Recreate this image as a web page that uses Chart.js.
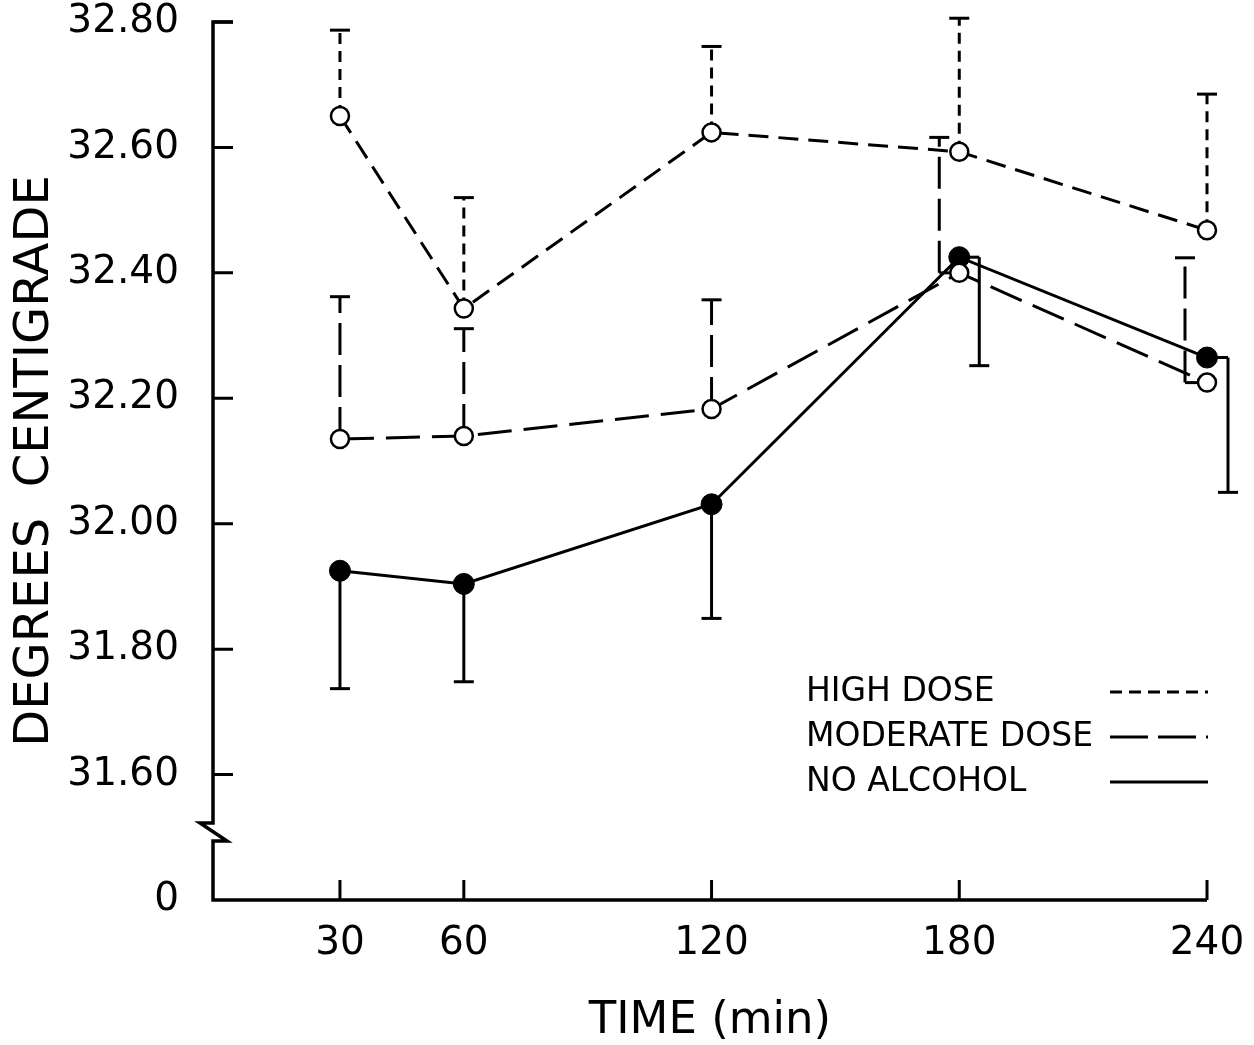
<!DOCTYPE html>
<html>
<head>
<meta charset="utf-8">
<script src="https://cdn.jsdelivr.net/npm/chart.js@4.4.0/dist/chart.umd.min.js"></script>
<style>
  html, body { margin: 0; padding: 0; background: #fff; }
</style>
</head>
<body>
<canvas id="tempChart" width="1254" height="1045"></canvas>
<script>
// Podaci (ocitano sa slike)
const times = [30, 60, 120, 180, 240];
const xTickLabels = ['30', '60', '120', '180', '240'];
const yTicks = [31.40, 31.60, 31.80, 32.00, 32.20, 32.40, 32.60, 32.80];
const yTickLabels = ['0', '31.60', '31.80', '32.00', '32.20', '32.40', '32.60', '32.80'];

const highDose = [32.650, 32.343, 32.624, 32.593, 32.468];
const highDoseErr = [0.137, 0.177, 0.137, 0.213, 0.217];
const moderateDose = [32.135, 32.140, 32.183, 32.400, 32.225];
const moderateDoseErr = [0.227, 0.171, 0.174, 0.216, 0.199];
const noAlcohol = [31.925, 31.904, 32.031, 32.425, 32.265];
const noAlcoholErr = [0.188, 0.156, 0.182, 0.173, 0.215];

const seriesNames = ['HIGH DOSE', 'MODERATE DOSE', 'NO ALCOHOL'];

// Stil error barova: smjer (+1 gore, -1 dolje), pomak u px, crtkanje
const errValues = [highDoseErr, moderateDoseErr, noAlcoholErr];
const errDir = [1, 1, -1];
const errShift = [[0, 0, 0, 0, 0], [0, 0, 0, -20, -22], [0, 0, 0, 20, 21]];
const errDash = [[11, 7], [32, 10], []];
const legendDash = [[12, 7], [38, 10], []];

const FONT = 'DejaVu Sans';

function toPoints(values) {
    return times.map((t, i) => ({ x: t, y: values[i] }));
}

// Error barovi - crtaju se prije tocaka da ih kruzici prekriju
const errorBarPlugin = {
    id: 'errorBars',
    beforeDatasetsDraw(chart) {
        const ctx = chart.ctx;
        const xs = chart.scales.x, ys = chart.scales.y;
        chart.data.datasets.forEach((ds, d) => {
            ds.data.forEach((pt, i) => {
                const px = xs.getPixelForValue(pt.x);
                const py = ys.getPixelForValue(pt.y);
                const bx = px + errShift[d][i];
                const end = ys.getPixelForValue(pt.y + errDir[d] * errValues[d][i]);
                ctx.save();
                ctx.strokeStyle = '#000';
                ctx.lineWidth = 3;
                ctx.beginPath();
                if (bx !== px) {
                    ctx.moveTo(px, py);
                    ctx.lineTo(bx, py);
                    ctx.stroke();
                }
                ctx.setLineDash(errDash[d]);
                ctx.beginPath();
                ctx.moveTo(bx, py);
                ctx.lineTo(bx, end);
                ctx.stroke();
                ctx.setLineDash([]);
                ctx.beginPath();
                ctx.moveTo(bx - 10, end);
                ctx.lineTo(bx + 10, end);
                ctx.stroke();
                ctx.restore();
            });
        });
    }
};

// Osi s prekidom i unutarnjim crticama + legenda
const axesPlugin = {
    id: 'axesAndLegend',
    afterDraw(chart) {
        const ctx = chart.ctx;
        const xs = chart.scales.x, ys = chart.scales.y;
        const left = chart.chartArea.left;
        const top = ys.getPixelForValue(32.80);
        const bottom = ys.getPixelForValue(31.40);
        const right = xs.getPixelForValue(240);

        ctx.save();
        ctx.strokeStyle = '#000';
        ctx.lineWidth = 3.5;
        ctx.lineJoin = 'miter';
        ctx.beginPath();
        ctx.moveTo(left + 20, top);
        ctx.lineTo(left, top);
        ctx.lineTo(left, bottom - 77);
        ctx.lineTo(left - 13, bottom - 77);
        ctx.lineTo(left + 14, bottom - 59);
        ctx.lineTo(left, bottom - 59);
        ctx.lineTo(left, bottom);
        ctx.lineTo(right, bottom);
        ctx.stroke();

        ctx.lineWidth = 3;
        ctx.beginPath();
        yTicks.slice(1).forEach(v => {
            const y = ys.getPixelForValue(v);
            ctx.moveTo(left, y);
            ctx.lineTo(left + 20, y);
        });
        times.forEach(t => {
            const x = xs.getPixelForValue(t);
            ctx.moveTo(x, bottom);
            ctx.lineTo(x, bottom - 20);
        });
        ctx.stroke();

        // Legenda
        ctx.fillStyle = '#000';
        ctx.font = '33px "' + FONT + '"';
        ctx.textBaseline = 'middle';
        ctx.textAlign = 'left';
        const legendY = [692, 737, 782];
        seriesNames.forEach((name, i) => {
            ctx.fillText(name, 806, legendY[i]);
            ctx.setLineDash(legendDash[i]);
            ctx.lineWidth = 3;
            ctx.beginPath();
            ctx.moveTo(1110, legendY[i]);
            ctx.lineTo(1208, legendY[i]);
            ctx.stroke();
        });
        ctx.restore();
    }
};

new Chart(document.getElementById('tempChart'), {
    type: 'line',
    data: {
        datasets: [
            {
                label: seriesNames[0],
                data: toPoints(highDose),
                borderColor: '#000',
                borderWidth: 3,
                borderDash: [20, 10],
                pointRadius: 9,
                pointBorderWidth: 2.5,
                pointBackgroundColor: '#fff',
                pointBorderColor: '#000'
            },
            {
                label: seriesNames[1],
                data: toPoints(moderateDose),
                borderColor: '#000',
                borderWidth: 3,
                borderDash: [34, 12],
                pointRadius: 9,
                pointBorderWidth: 2.5,
                pointBackgroundColor: '#fff',
                pointBorderColor: '#000'
            },
            {
                label: seriesNames[2],
                data: toPoints(noAlcohol),
                borderColor: '#000',
                borderWidth: 3,
                pointRadius: 10.5,
                pointBorderWidth: 1,
                pointBackgroundColor: '#000',
                pointBorderColor: '#000'
            }
        ]
    },
    options: {
        responsive: false,
        animation: false,
        devicePixelRatio: 1,
        clip: false,
        layout: { padding: { left: 0, right: 47, top: 22, bottom: 0 } },
        plugins: {
            legend: { display: false },
            tooltip: { enabled: false }
        },
        scales: {
            x: {
                type: 'linear',
                min: -0.75,
                max: 240,
                afterFit(s) {
                    s.height = 145;
                    s.paddingLeft = 0;
                    s.paddingRight = 0;
                },
                afterBuildTicks(s) { s.ticks = times.map(v => ({ value: v })); },
                grid: { display: false },
                border: { display: false },
                ticks: {
                    color: '#000',
                    padding: 16,
                    maxRotation: 0,
                    font: { family: FONT, size: 39, lineHeight: 1 },
                    callback: (v, i) => xTickLabels[i]
                },
                title: {
                    display: true,
                    text: 'TIME (min)',
                    color: '#000',
                    font: { family: FONT, size: 45, lineHeight: 1 },
                    padding: { top: 0, bottom: 1 }
                }
            },
            y: {
                type: 'linear',
                min: 31.40,
                max: 32.80,
                afterFit(s) {
                    s.width = 213;
                    s.paddingTop = 0;
                    s.paddingBottom = 0;
                },
                afterBuildTicks(s) { s.ticks = yTicks.map(v => ({ value: v })); },
                grid: { display: false },
                border: { display: false },
                ticks: {
                    color: '#000',
                    padding: 26,
                    font: { family: FONT, size: 39, lineHeight: 1 },
                    callback: (v, i) => yTickLabels[i]
                },
                title: {
                    display: true,
                    text: 'DEGREES  CENTIGRADE',
                    color: '#000',
                    font: { family: FONT, size: 48, lineHeight: 1 },
                    padding: { top: 12, bottom: 0 }
                }
            }
        }
    },
    plugins: [errorBarPlugin, axesPlugin]
});
</script>
</body>
</html>
